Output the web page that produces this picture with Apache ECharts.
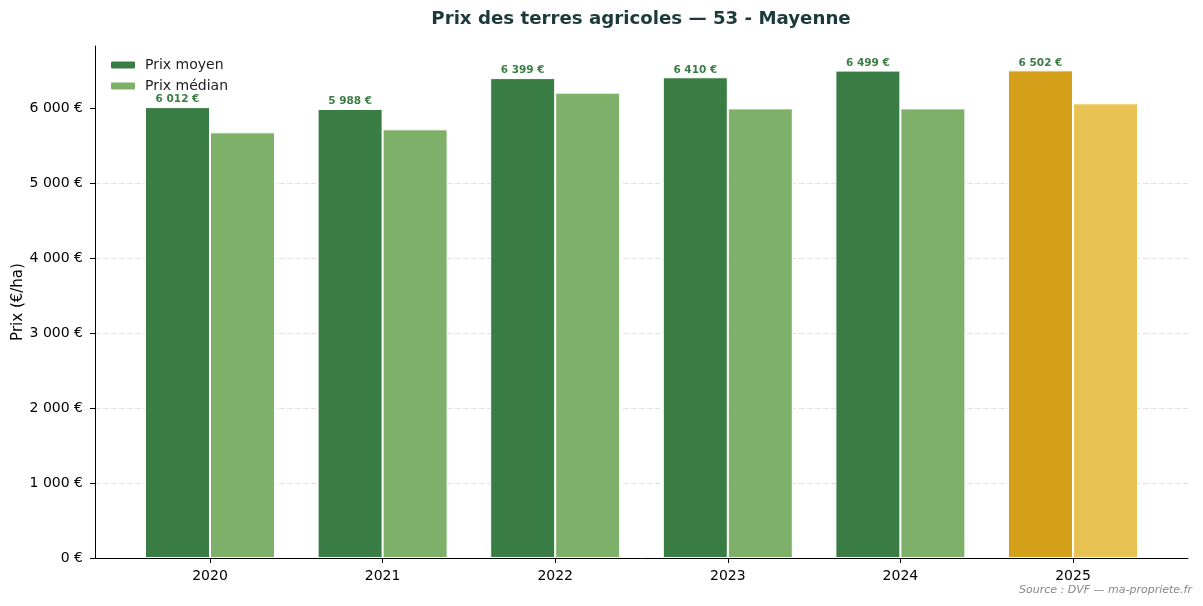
<!DOCTYPE html>
<html lang="fr">
<head>
<meta charset="UTF-8">
<script src="https://cdn.jsdelivr.net/npm/echarts@6/dist/echarts.min.js"></script>
<title>Prix des terres agricoles — 53 - Mayenne</title>
<style>
  html, body { margin: 0; padding: 0; background: #fff; }
  #main { width: 1203px; height: 606px; }
</style>
</head>
<body>
<div id="main"></div>
<script>
// données
var annees = ['2020', '2021', '2022', '2023', '2024', '2025'];
var prixMoyen = [6012, 5988, 6399, 6410, 6499, 6502];
var prixMedian = [5676, 5716, 6205, 5995, 5995, 6063];
var yTicks = [0, 1000, 2000, 3000, 4000, 5000, 6000];

var vert = '#3a7d44', vertClair = '#7fb069';
var or = '#d4a01a', orClair = '#e8c252';

function fmt(v) {
    return String(Math.round(v)).replace(/\B(?=(\d{3})+(?!\d))/g, ' ') + ' €';
}

var last = annees.length - 1;
var moyenData = prixMoyen.map(function (v, i) {
    return { value: v, itemStyle: { color: i === last ? or : vert } };
});
var medianData = prixMedian.map(function (v, i) {
    return { value: v, itemStyle: { color: i === last ? orClair : vertClair } };
});

var chart = echarts.init(document.getElementById('main'));
chart.setOption({
    animation: false,
    backgroundColor: '#fff',
    textStyle: { fontFamily: 'DejaVu Sans' },
    graphic: [{
        type: 'text', x: 641, y: 19.5,
        style: { text: 'Prix des terres agricoles — 53 - Mayenne', fill: '#1b3a3a',
                 fontSize: 18.2, fontWeight: 'bold', fontFamily: 'DejaVu Sans',
                 align: 'center', verticalAlign: 'middle' }
    }, {
        type: 'text', x: 1192, y: 590,
        style: { text: 'Source : DVF — ma-propriete.fr', fill: '#888', fontSize: 11,
                 fontStyle: 'italic', fontFamily: 'DejaVu Sans',
                 align: 'right', verticalAlign: 'middle' }
    }, {
        // titre de l'axe Y
        type: 'text', x: 18, y: 302, rotation: Math.PI / 2,
        style: { text: 'Prix (€/ha)', fill: '#000', fontSize: 15, fontFamily: 'DejaVu Sans',
                 align: 'center', verticalAlign: 'middle' }
    }],
    legend: {
        left: 109, top: 58, orient: 'vertical', itemGap: 7, padding: 0,
        itemWidth: 26, itemHeight: 9,
        textStyle: { fontSize: 14, color: '#222', fontFamily: 'DejaVu Sans', padding: [0, 0, 0, 4] },
        data: [
            { name: 'Prix moyen', itemStyle: { color: vert } },
            { name: 'Prix médian', itemStyle: { color: vertClair } }
        ]
    },
    grid: [
        { left: 95, right: 15, top: 46, bottom: 48, outerBoundsMode: 'none', containLabel: false },
        { left: 123.7, right: 43.7, top: 46, bottom: 48, outerBoundsMode: 'none', containLabel: false }
    ],
    xAxis: [{
        gridIndex: 0, type: 'value', min: 0, max: 1,
        axisLine: { show: true, lineStyle: { color: '#000', width: 1 } },
        axisTick: { show: false }, axisLabel: { show: false }, splitLine: { show: false }
    }, {
        gridIndex: 1, type: 'category', data: annees,
        axisLine: { show: false },
        axisTick: { show: true, alignWithLabel: true, length: 5, lineStyle: { color: '#000' } },
        axisLabel: { fontSize: 14, color: '#000', margin: 11 }
    }],
    yAxis: [{
        gridIndex: 0, type: 'value', min: 0, max: 6827, interval: 1000,
        axisLine: { show: true, lineStyle: { color: '#000' } },
        axisTick: { show: true, length: 5, lineStyle: { color: '#000' }, customValues: yTicks },
        axisLabel: { fontSize: 14, color: '#000', margin: 12, customValues: yTicks, formatter: fmt },
        splitLine: { show: true, showMaxLine: false, lineStyle: { color: '#e0e0e0', type: [5, 3] } }
    }, {
        gridIndex: 1, type: 'value', min: 0, max: 6827, show: false, splitLine: { show: false }
    }],
    series: [{
        name: 'Prix moyen', type: 'bar', xAxisIndex: 1, yAxisIndex: 1,
        barWidth: 65, barGap: '0%', z: 3,
        itemStyle: { borderColor: '#fff', borderWidth: 1 },
        label: {
            show: true, position: 'top', distance: 2, formatter: function (p) { return fmt(p.value); },
            fontSize: 10.5, fontWeight: 'bold', color: vert
        },
        data: moyenData
    }, {
        name: 'Prix médian', type: 'bar', xAxisIndex: 1, yAxisIndex: 1,
        barWidth: 65, z: 3,
        itemStyle: { borderColor: '#fff', borderWidth: 1 },
        data: medianData
    }]
});
</script>
</body>
</html>
